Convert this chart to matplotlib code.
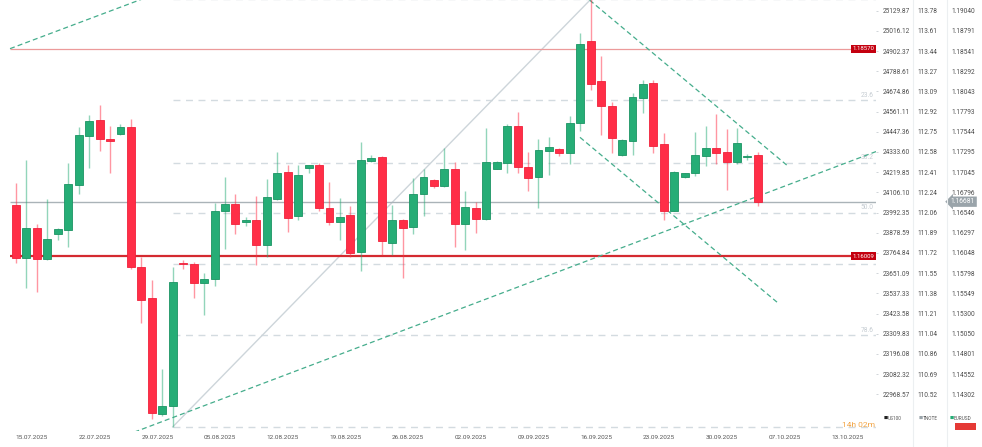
import numpy as np
import matplotlib.pyplot as plt
from matplotlib.lines import Line2D
from matplotlib.patches import Rectangle
import matplotlib.transforms as mtransforms

plt.rcParams['font.family'] = ['Roboto', 'DejaVu Sans']

# daily EURUSD candles (index = bar number)
opens = [1.1664, 1.1598, 1.1635, 1.1597, 1.1628, 1.1633, 1.1689, 1.1749, 1.1769, 1.1745,
         1.1752, 1.1760, 1.1588, 1.1549, 1.1406, 1.1416, 1.1593, 1.1591, 1.1568, 1.1573,
         1.1656, 1.1665, 1.1643, 1.1645, 1.1615, 1.1672, 1.1705, 1.1651, 1.1710, 1.1713,
         1.1660, 1.1643, 1.1652, 1.1606, 1.1718, 1.1723, 1.1617, 1.1645, 1.1637, 1.1678,
         1.1695, 1.1687, 1.1709, 1.1641, 1.1660, 1.1647, 1.1709, 1.1716, 1.1761, 1.1711,
         1.1698, 1.1731, 1.1733, 1.1728, 1.1765, 1.1867, 1.1817, 1.1786, 1.1726, 1.1743,
         1.1796, 1.1815, 1.1739, 1.1657, 1.1698, 1.1703, 1.1725, 1.1734, 1.1730, 1.1717,
         1.1723, 1.1726]
highs = [1.1691, 1.1720, 1.1641, 1.1671, 1.1636, 1.1716, 1.1760, 1.1775, 1.1788, 1.1761,
         1.1764, 1.1770, 1.1600, 1.1572, 1.1461, 1.1587, 1.1596, 1.1594, 1.1580, 1.1667,
         1.1698, 1.1678, 1.1649, 1.1675, 1.1696, 1.1730, 1.1714, 1.1714, 1.1714, 1.1716,
         1.1693, 1.1673, 1.1663, 1.1742, 1.1726, 1.1725, 1.1664, 1.1647, 1.1697, 1.1708,
         1.1696, 1.1735, 1.1717, 1.1681, 1.1668, 1.1759, 1.1718, 1.1764, 1.1779, 1.1730,
         1.1745, 1.1748, 1.1734, 1.1774, 1.1877, 1.1918, 1.1848, 1.1791, 1.1745, 1.1802,
         1.1819, 1.1818, 1.1753, 1.1706, 1.1704, 1.1754, 1.1761, 1.1777, 1.1758, 1.1759,
         1.1727, 1.1730]
lows = [1.1593, 1.1562, 1.1556, 1.1596, 1.1621, 1.1612, 1.1678, 1.1710, 1.1731, 1.1703,
        1.1751, 1.1585, 1.1518, 1.1400, 1.1404, 1.1390, 1.1585, 1.1549, 1.1528, 1.1564,
        1.1610, 1.1628, 1.1638, 1.1590, 1.1600, 1.1670, 1.1631, 1.1646, 1.1704, 1.1657,
        1.1639, 1.1621, 1.1600, 1.1583, 1.1717, 1.1602, 1.1602, 1.1574, 1.1628, 1.1651,
        1.1685, 1.1686, 1.1612, 1.1608, 1.1630, 1.1645, 1.1708, 1.1703, 1.1703, 1.1681,
        1.1660, 1.1701, 1.1725, 1.1715, 1.1756, 1.1806, 1.1750, 1.1728, 1.1725, 1.1726,
        1.1778, 1.1728, 1.1645, 1.1656, 1.1697, 1.1700, 1.1712, 1.1715, 1.1682, 1.1715,
        1.1719, 1.1663]
closes = [1.1598, 1.1635, 1.1597, 1.1622, 1.1634, 1.1690, 1.1750, 1.1768, 1.1745, 1.1743,
          1.1760, 1.1588, 1.1547, 1.1407, 1.1416, 1.1569, 1.1591, 1.1568, 1.1573, 1.1656,
          1.1665, 1.1641, 1.1645, 1.1614, 1.1674, 1.1703, 1.1648, 1.1701, 1.1713, 1.1660,
          1.1643, 1.1649, 1.1605, 1.1719, 1.1722, 1.1619, 1.1645, 1.1636, 1.1677, 1.1698,
          1.1688, 1.1709, 1.1641, 1.1661, 1.1647, 1.1717, 1.1717, 1.1761, 1.1711, 1.1697,
          1.1732, 1.1736, 1.1728, 1.1765, 1.1863, 1.1814, 1.1786, 1.1747, 1.1744, 1.1798,
          1.1813, 1.1737, 1.1657, 1.1705, 1.1703, 1.1726, 1.1734, 1.1728, 1.1717, 1.1741,
          1.1725, 1.1668]

date_labels = ["15.07.2025", "22.07.2025", "29.07.2025", "05.08.2025", "12.08.2025",
               "19.08.2025", "26.08.2025", "02.09.2025", "09.09.2025", "16.09.2025",
               "23.09.2025", "30.09.2025", "07.10.2025", "13.10.2025"]

eur_ticks = [1.19040, 1.18791, 1.18541, 1.18292, 1.18043, 1.17793, 1.17544, 1.17295,
             1.17045, 1.16796, 1.16546, 1.16297, 1.16048, 1.15798, 1.15549, 1.15300,
             1.15050, 1.14801, 1.14552, 1.14302]
us100_ticks = ["25129.87", "25016.12", "24902.37", "24788.61", "24674.86", "24561.11",
               "24447.36", "24333.60", "24219.85", "24106.10", "23992.35", "23878.59",
               "23764.84", "23651.09", "23537.33", "23423.58", "23309.83", "23196.08",
               "23082.32", "22968.57"]
tnote_ticks = ["113.78", "113.61", "113.44", "113.27", "113.09", "112.92", "112.75",
               "112.58", "112.41", "112.24", "112.06", "111.89", "111.72", "111.55",
               "111.38", "111.21", "111.04", "110.86", "110.69", "110.52"]

last_price = 1.16681
resistance = 1.18570
support = 1.16009

# fibonacci retracement (low bar -> high bar)
fib_low_idx, fib_low = 15, 1.1390
fib_high_idx, fib_high = 55, 1.1918
fib_ratios = [0.0, 0.236, 0.382, 0.5, 0.618, 0.786, 1.0]
fib_labels = ["", "23.6", "38.2", "50.0", "61.8", "78.6", ""]

# trend lines (bar index, price)
rising_x, rising_y = [10.6, 82.3], [1.1380, 1.1730]
upper_x, upper_y = [-0.57, 12.2], [1.18571, 1.1919]
desc_top_x, desc_top_y = [54.9, 73.75], [1.1917, 1.17134]
desc_bot_x, desc_bot_y = [53.97, 72.85], [1.17476, 1.15438]

GREEN = '#26ad76'
RED = '#ff2e47'
TL_GREEN = '#45ad8c'

W, H = 982, 447
fig = plt.figure(figsize=(W / 100, H / 100), dpi=100)
ax = fig.add_axes([0, 1 - 431 / H, 876 / W, 431 / H])
ax.set_xlim(-1.53, 82.3)
ax.set_ylim(1.13849, 1.19172)
for s in ax.spines.values():
    s.set_visible(False)

x0, x1 = ax.get_xlim()
blend = mtransforms.blended_transform_factory(ax.transAxes, ax.transData)

# fibonacci levels
for r, lab in zip(fib_ratios, fib_labels):
    lvl = fib_high - r * (fib_high - fib_low)
    ax.hlines(lvl, fib_low_idx, x1, color='#d3dbe0', lw=1, linestyles=(0, (5, 4)), zorder=1)
    if lab:
        ax.text(0.997, lvl + 0.0002, lab, transform=blend, ha='right', va='bottom',
                fontsize=4.8, color='#c5ccd2', zorder=1)
ax.plot([fib_low_idx, fib_high_idx], [fib_low, fib_high], color='#cdd5da', lw=1, zorder=1)

# horizontal levels
ax.hlines(resistance, -0.57, x1, color='#ec9a9a', lw=0.9, zorder=2)
ax.hlines(support, -0.57, x1, color='#d42a30', lw=1.6, zorder=2)
ax.hlines(last_price, -0.57, x1, color='#aab3b8', lw=1, zorder=2)

# trend lines
for xs, ys in [(rising_x, rising_y), (upper_x, upper_y), (desc_top_x, desc_top_y), (desc_bot_x, desc_bot_y)]:
    ax.plot(xs, ys, color=TL_GREEN, lw=0.9, linestyle=(0, (4, 2.5)), zorder=2)

# candles
o = np.array(opens); c = np.array(closes); h = np.array(highs); l = np.array(lows)
idx = np.arange(len(o))
up = c >= o
cols = np.where(up, GREEN, RED)
edges = np.where(up, '#1b9463', '#f0213b')
ax.vlines(idx, l, h, colors=cols, lw=1, alpha=0.5, zorder=3)
body_h = np.maximum(np.abs(c - o), 0.00012)
ax.bar(idx, body_h, bottom=np.minimum(o, c), width=0.76, color=cols, edgecolor=edges, lw=0.6, zorder=4)

# x axis dates
date_pos = 1.53 + 6 * np.arange(len(date_labels))
ax.set_xticks(date_pos, date_labels)
ax.tick_params(axis='x', length=0, pad=3.2, labelsize=4.6, labelcolor='#555555')

# right axes: US100 / TNOTE / EURUSD columns
ax2 = ax.twinx()
ax3 = ax.twinx()
for a, labels, pad in [(ax2, tnote_ticks, 29.5), (ax3, [f"{v:.5f}" for v in eur_ticks], 54.5)]:
    a.set_ylim(ax.get_ylim())
    a.set_yticks(eur_ticks, labels)
    a.tick_params(axis='y', length=0, pad=pad, labelsize=4.7, labelcolor='#4d4d4d')
    a.patch.set_visible(False)
    for s in a.spines.values():
        s.set_visible(False)
ax.yaxis.tick_right()
ax.set_yticks(eur_ticks, us100_ticks)
ax.tick_params(axis='y', which='both', left=False, labelleft=False, right=True, labelright=True,
               length=1.5, width=0.6, color='#c9cfd3', pad=3, labelsize=4.7, labelcolor='#4d4d4d')

# column separators
for xs in (913, 947):
    fig.add_artist(Line2D([xs / W, xs / W], [0, 1], color='#eceff1', lw=0.8))

# price tags
for lvl in (resistance, support):
    ax.text(0.998, lvl, f"{lvl:.5f}", transform=blend, ha='right', va='center', fontsize=4.3,
            color='white', zorder=6, bbox=dict(boxstyle='square,pad=0.25', fc='#c4000f', ec='none'))
tblend = mtransforms.blended_transform_factory(fig.transFigure, ax.transData)
ax.text(963 / W, last_price, f"{last_price:.5f}", transform=tblend, ha='center', va='center',
        fontsize=4.8, color='white', clip_on=False, zorder=6,
        bbox=dict(boxstyle='larrow,pad=0.25', fc='#9aa4aa', ec='none'))

# legend / status
for xs, col, name in [(884, '#222222', 'US100'), (919, '#9aa4aa', 'TNOTE'), (950, GREEN, 'EURUSD')]:
    fig.text(xs / W, 1 - 418 / H, '■', color=col, fontsize=3.2, va='center', ha='left',
             family='DejaVu Sans')
    fig.text((xs + 4) / W, 1 - 418 / H, name, color='#555555', fontsize=3.4, va='center', ha='left')
fig.add_artist(Rectangle((955 / W, 1 - 430 / H), 21 / W, 7 / H, transform=fig.transFigure,
                         fc='#e53935', ec='none'))
fig.text(875 / W, 1 - 425 / H, '14h 02m', color='#f2a444', fontsize=6, ha='right', va='center')

fig.savefig('out.png', dpi=100)
